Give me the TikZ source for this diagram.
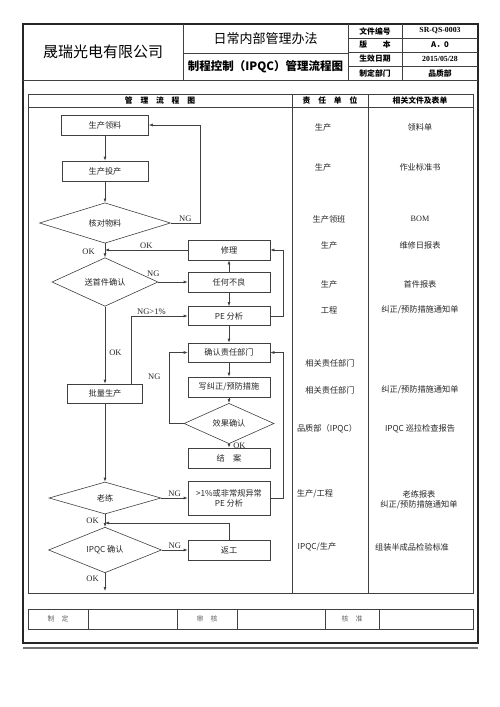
\documentclass[tikz,border=0pt]{standalone}
\usepackage{fontspec}
\setmainfont{Noto Sans CJK SC}
\newfontfamily\latinfont{Liberation Serif}
\usetikzlibrary{shapes.geometric,arrows.meta}

\begin{document}
\begin{tikzpicture}[x=1pt,y=-1pt,>={Latex[length=4pt,width=3pt]},
  every node/.style={font=\fontsize{8.2}{10}\selectfont,text=black!85},
  box/.style={draw=black!75,line width=0.6pt,minimum width=82pt,minimum height=20pt,inner sep=0pt,align=center},
  decision/.style={diamond,draw=black!75,line width=0.6pt,inner sep=0pt},
  tag/.style={font=\latinfont\fontsize{8.5}{9}\selectfont,inner sep=1pt},
  link/.style={draw=black!75,line width=0.6pt,->},
  rule/.style={draw=black!75,line width=0.6pt},
  cell/.style={font=\bfseries\fontsize{7.8}{9}\selectfont,text=black},
  sign/.style={font=\fontsize{7}{8}\selectfont,text=black!60}]
\useasboundingbox (0,0) rectangle (500,707);
\draw[line width=1.5pt,black!85] (23,24) rectangle (478,643);
\draw[line width=2.2pt,black!55] (23,648) -- (478,648);
\draw[rule] (183,24) -- (183,80) (348,24) -- (348,80) (402,24) -- (402,80);
\draw[rule] (23,80) -- (478,80) (183,53) -- (348,53);
\draw[rule] (348,38) -- (478,38) (348,52) -- (478,52) (348,66) -- (478,66);
\draw[rule] (28,94) rectangle (473,593);
\draw[rule] (28,107) -- (473,107) (292,94) -- (292,593) (368,94) -- (368,593);
\draw[rule] (28,609) rectangle (473,629);
\draw[rule] (88,609) -- (88,629) (177,609) -- (177,629) (237,609) -- (237,629) (325,609) -- (325,629) (379,609) -- (379,629);

\node[font=\fontsize{15}{16}\selectfont,text=black] (company) at (103,52) {晟瑞光电有限公司};
\node[font=\fontsize{13}{14}\selectfont,text=black] (manual) at (265.5,39) {日常内部管理办法};
\node[font=\bfseries\fontsize{11.5}{13}\selectfont,text=black] (title) at (265.5,67) {制程控制（IPQC）管理流程图};
\node[cell] (docno) at (375,31) {文件编号};
\node[cell,font=\latinfont\bfseries\fontsize{7.8}{9}\selectfont] (docnoval) at (440,31) {SR-QS-0003};
\node[cell] (version) at (375,45) {版　　本};
\node[cell] (versionval) at (440,45) {A．0};
\node[cell] (date) at (375,59) {生效日期};
\node[cell,font=\latinfont\bfseries\fontsize{7.8}{9}\selectfont] (dateval) at (440,59) {2015/05/28};
\node[cell] (dept) at (375,73) {制定部门};
\node[cell] (deptval) at (440,73) {品质部};
\node[cell] (colflow) at (160,100.5) {管　理　流　程　图};
\node[cell] (colunit) at (330,100.5) {责　任　单　位};
\node[cell] (coldocs) at (420,100.5) {相关文件及表单};
\node[sign] (made) at (58,619) {制　定};
\node[sign] (checked) at (207,619) {审　核};
\node[sign] (approved) at (352,619) {核　准};

\node[box,minimum width=87pt] (lingliao) at (105,125) {生产领料};
\node[box,minimum width=86pt] (touchan) at (105,171) {生产投产};
\node[decision,minimum width=131pt,minimum height=32pt] (hedui) at (105,223) {核对物料};
\node[box] (xiuli) at (229,250) {修理};
\node[decision,minimum width=106pt,minimum height=31pt] (songjian) at (105,282) {送首件确认};
\node[box] (renhe) at (229,282) {任何不良};
\node[box,minimum height=19pt] (pe) at (229,316) {PE 分析};
\node[box,minimum height=19pt] (queren) at (229,352.5) {确认责任部门};
\node[box] (xie) at (229,387) {写纠正/预防措施};
\node[decision,minimum width=90pt,minimum height=31pt] (xiaoguo) at (229,423.5) {效果确认};
\node[box] (jiean) at (229,458) {结　案};
\node[box,minimum width=75pt,minimum height=19pt] (piliang) at (105,393.5) {批量生产};
\node[decision,minimum width=112pt,minimum height=32pt] (laolian) at (105,498) {老练};
\node[box,minimum height=34pt] (yichang) at (229,498) {>1\%或非常规异常\\PE 分析};
\node[decision,minimum width=113pt,minimum height=32pt] (ipqc) at (105,550) {IPQC 确认};
\node[box] (fangong) at (229,550) {返工};
\coordinate (merge) at (105,523);
\coordinate (stop) at (105,591);

\draw[link] (lingliao) -- (touchan);
\draw[link] (touchan) -- (hedui);
\draw[link] (hedui.east) -- node[tag,above] {NG} ++(29,0) |- (lingliao.east);
\draw[link] (hedui) -- node[tag,left=9pt,pos=0.6] {OK} (songjian);
\draw[link] (xiuli.west) -- node[tag,above] {OK} (xiuli.west -| hedui.south);
\draw[link] (songjian.east) -- node[tag,pos=0,above=4pt,xshift=-5pt] {NG} (renhe.west);
\draw[link] (renhe) -- (xiuli);
\draw[link] (renhe) -- (pe);
\draw[link] (pe.east) -- ++(13,0) |- (xiuli.east);
\draw[link] (songjian) -- node[tag,right=3pt,pos=0.6] {OK} (piliang);
\draw[link] ([xshift=26pt]piliang.north) |- node[tag,above,pos=0.68] {NG>1\%} (pe.west);
\draw[link] (pe) -- (queren);
\draw[link] (queren) -- (xie);
\draw[link] (xie) -- (xiaoguo);
\draw[link] (xiaoguo) -- node[tag,right=3pt] {OK} (jiean);
\draw[link] (xiaoguo.west) -- ++(-14,0) |- node[tag,left=8pt,pos=0.33] {NG} (queren.west);
\draw[link] (piliang) -- (laolian);
\draw[link] (laolian) -- node[tag,above] {NG} (yichang);
\draw[link] (yichang.east) -- ++(13,0) |- (queren.east);
\draw[link] (laolian) -- node[tag,left=5pt] {OK} (ipqc);
\draw[link] (ipqc) -- node[tag,above] {NG} (fangong);
\draw[link] (fangong.north) |- (merge);
\draw[link] (ipqc) -- node[tag,left=5pt,pos=0.3] {OK} (stop);

\node (unit1) at (323,127) {生产};
\node (unit2) at (323,167) {生产};
\node (unit3) at (329,219) {生产领班};
\node (unit4) at (329,245) {生产};
\node (unit5) at (329,284) {生产};
\node (unit6) at (329,310) {工程};
\node (unit7) at (330,363) {相关责任部门};
\node (unit8) at (330,390) {相关责任部门};
\node (unit9) at (327,429) {品质部（IPQC）};
\node (unit10) at (315,494) {生产/工程};
\node (unit11) at (317,547) {IPQC/生产};
\node (doc1) at (420,127) {领料单};
\node (doc2) at (420,167) {作业标准书};
\node[font=\latinfont\fontsize{8.2}{10}\selectfont] (doc3) at (420,219) {BOM};
\node (doc4) at (420,245) {维修日报表};
\node (doc5) at (420,284) {首件报表};
\node (doc6) at (420,310) {纠正/预防措施通知单};
\node (doc7) at (420,390) {纠正/预防措施通知单};
\node (doc8) at (420,429) {IPQC 巡拉检查报告};
\node[align=center] (doc9) at (419,500) {老练报表\\纠正/预防措施通知单};
\node (doc10) at (412,547) {组装半成品检验标准};
\end{tikzpicture}
\end{document}
